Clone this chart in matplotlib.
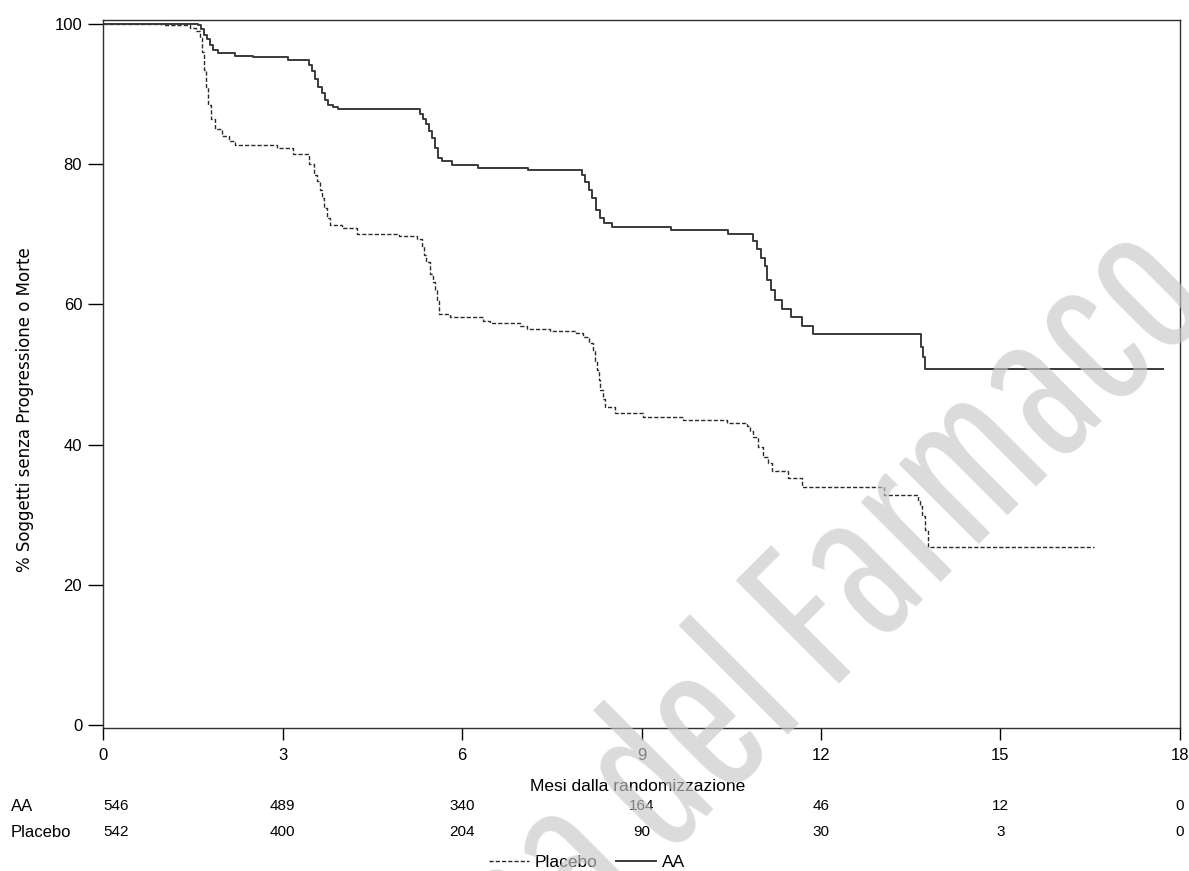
import matplotlib
matplotlib.use("Agg")
import matplotlib.pyplot as plt
from matplotlib.lines import Line2D

plt.rcParams['font.family'] = ['Liberation Sans', 'DejaVu Sans']

aa_t = [0, 1.58, 1.64, 1.68, 1.73, 1.78, 1.84, 1.92, 2.2, 2.5, 3.1, 3.45, 3.5, 3.54, 3.6,
        3.66, 3.71, 3.76, 3.85, 3.93, 5.3, 5.35, 5.4, 5.45, 5.5, 5.55, 5.6, 5.67, 5.83,
        6.27, 7.1, 8.0, 8.06, 8.12, 8.18, 8.24, 8.3, 8.38, 8.5, 9.5, 10.45, 10.87, 10.93,
        11.0, 11.06, 11.1, 11.16, 11.23, 11.35, 11.5, 11.68, 11.87, 13.67, 13.7, 13.74, 17.72]
aa_s = [100, 99.8, 99.3, 98.5, 97.8, 97.0, 96.3, 95.8, 95.5, 95.3, 94.9, 94.2, 93.3, 92.1, 91.0,
        90.1, 89.2, 88.5, 88.1, 87.9, 87.2, 86.5, 85.7, 84.7, 83.7, 82.3, 80.9, 80.4, 79.9,
        79.5, 79.2, 78.5, 77.5, 76.3, 75.2, 73.5, 72.3, 71.6, 71.0, 70.6, 70.1, 69.0, 67.9,
        66.7, 65.5, 63.5, 62.0, 60.6, 59.4, 58.2, 57.0, 55.8, 54.0, 52.5, 50.8, 50.8]

pl_t = [0, 1.0, 1.45, 1.55, 1.62, 1.66, 1.69, 1.72, 1.76, 1.8, 1.87, 1.99, 2.1, 2.2, 2.9,
        3.18, 3.45, 3.52, 3.57, 3.62, 3.66, 3.7, 3.74, 3.8, 4.0, 4.25, 4.95, 5.25, 5.33,
        5.36, 5.4, 5.47, 5.52, 5.55, 5.58, 5.62, 5.8, 6.35, 6.47, 6.97, 7.09, 7.47, 7.9,
        8.02, 8.12, 8.19, 8.23, 8.26, 8.29, 8.31, 8.35, 8.39, 8.56, 9.03, 9.7, 10.43,
        10.76, 10.82, 10.86, 10.95, 11.03, 11.12, 11.18, 11.45, 11.68, 13.05, 13.62,
        13.66, 13.69, 13.74, 13.79, 16.56]
pl_s = [100, 99.8, 99.5, 99.0, 98.0, 96.0, 93.5, 91.0, 88.5, 86.5, 85.0, 84.0, 83.3, 82.8, 82.3,
        81.4, 80.0, 78.5, 77.6, 76.3, 75.2, 73.7, 72.3, 71.3, 70.9, 70.1, 69.7, 69.3, 68.3,
        67.0, 66.0, 64.4, 63.2, 62.0, 60.5, 58.7, 58.2, 57.6, 57.3, 56.9, 56.5, 56.2, 55.9,
        55.4, 54.5, 53.3, 52.0, 50.6, 49.2, 47.8, 46.5, 45.4, 44.5, 44.0, 43.5, 43.1,
        42.7, 41.9, 41.1, 39.7, 38.3, 37.4, 36.3, 35.2, 34.0, 32.9, 32.0,
        31.2, 29.8, 27.9, 25.4, 25.4]

x_ticks = [0, 3, 6, 9, 12, 15, 18]
y_ticks = [0, 20, 40, 60, 80, 100]
risk_groups = ['AA', 'Placebo']
risk_aa = [546, 489, 340, 164, 46, 12, 0]
risk_pl = [542, 400, 204, 90, 30, 3, 0]

# ---- figure ----
W, H = 1189, 871
fig = plt.figure(figsize=(W / 100, H / 100), dpi=100)
ax = fig.add_axes([103 / W, 1 - 728 / H, (1180 - 103) / W, (728 - 20.5) / H])

ink = '#2a2a2a'
ax.step(pl_t, pl_s, where='post', color=ink, lw=1.0, dashes=(3, 1.5), label='Placebo')
ax.step(aa_t, aa_s, where='post', color='#3a3a3a', lw=1.4, label='AA')

ax.set_xlim(0, 18)
ax.set_ylim(-0.4, 100.5)
ax.set_xticks(x_ticks)
ax.set_yticks(y_ticks)
ax.tick_params(axis='y', direction='out', length=11, width=1, pad=4, labelsize=12, colors='black')
ax.tick_params(axis='x', direction='out', length=8.5, width=1, pad=6, labelsize=12, colors='black')
for sp in ax.spines.values():
    sp.set_color('#303030')
    sp.set_linewidth(1.0)

fig.text(25 / W, 1 - 410 / H, '% Soggetti senza Progressione o Morte', rotation=90,
         ha='center', va='center', fontsize=12, family=['DejaVu Sans'])
fig.text(638 / W, 1 - 786 / H, 'Mesi dalla randomizzazione', ha='center', va='center', fontsize=12.5)

# risk table
rows_y = [1 - 806 / H, 1 - 832 / H]
for name, vals, yy in zip(risk_groups, [risk_aa, risk_pl], rows_y):
    fig.text(11 / W, yy, name, ha='left', va='center', fontsize=12)
    for i, (xt, v) in enumerate(zip(x_ticks, vals)):
        xf = ax.transData.transform((xt, 0))[0] / W
        fig.text(xf, yy, str(v), ha='left' if i == 0 else 'center', va='center', fontsize=11)

handles = [Line2D([], [], color=ink, lw=1.0, dashes=(3, 1.5)),
           Line2D([], [], color='#3a3a3a', lw=1.4)]
fig.legend(handles, ['Placebo', 'AA'], loc='center', bbox_to_anchor=(587 / W, 1 - 862 / H),
           ncol=2, frameon=False, fontsize=12.5, handlelength=2.3, handletextpad=0.3,
           columnspacing=1.1)

# watermark
fig.text(1218 / W, 1 - 305 / H, 'Agenzia Italiana del Farmaco', ha='right', va='baseline',
         rotation=45, rotation_mode='anchor', fontsize=150, color='#c8c8c8', alpha=0.65,
         zorder=10, family=['Pathway Gothic One', 'Barlow Condensed', 'Liberation Sans'])

fig.savefig('out.png', dpi=100)
